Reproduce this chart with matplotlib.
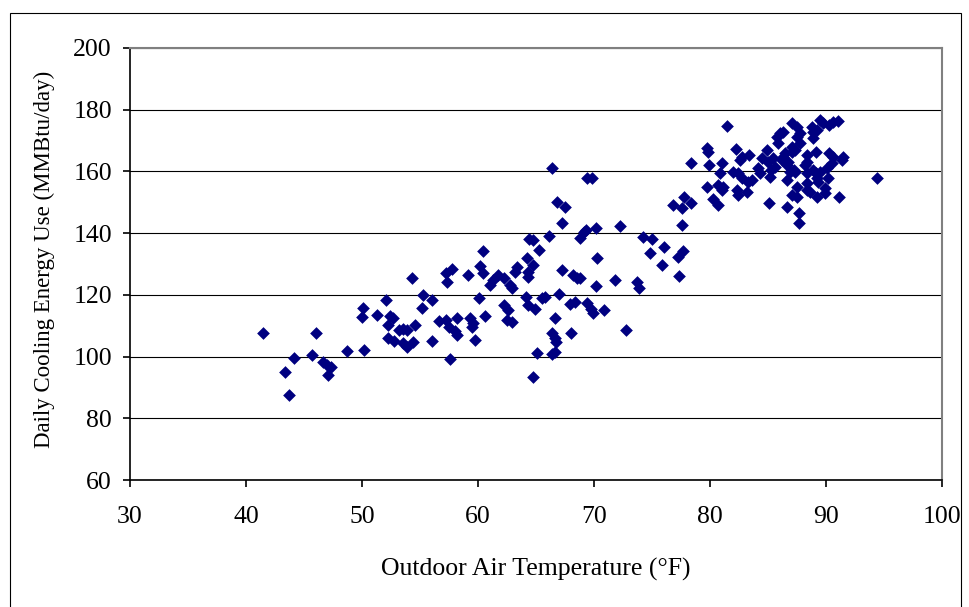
import matplotlib.pyplot as plt
from matplotlib.patches import Rectangle

# outdoor air temperature (F) and daily cooling energy use (MMBtu/day)
temp = [41.5, 46.0, 44.1, 43.4, 43.7, 45.7, 46.6, 47.0, 47.3, 47.1,
        48.7, 50.2, 50.1, 50.0, 51.3, 52.1, 52.4, 52.7, 52.2, 53.2,
        53.5, 53.9, 54.6, 52.2, 52.8, 53.5, 53.9, 54.4, 54.3, 55.3,
        56.0, 55.2, 56.0, 57.6, 56.6, 57.2, 57.5, 58.2, 58.0, 58.2,
        57.2, 57.8, 57.3, 59.1, 59.3, 59.6, 59.5, 60.6, 59.7, 60.1,
        60.4, 60.2, 60.4, 63.4, 63.2, 64.7, 64.3, 64.3, 61.7, 61.3,
        61.0, 62.2, 62.8, 62.9, 64.1, 64.3, 64.9, 65.5, 65.8, 62.2,
        62.6, 62.5, 62.9, 66.4, 69.4, 69.8, 66.8, 67.5, 67.2, 66.1,
        64.4, 64.7, 68.8, 69.1, 69.3, 70.2, 72.2, 74.2, 75.0, 74.8,
        76.0, 75.9, 65.3, 64.2, 70.3, 67.2, 68.2, 68.5, 68.8, 70.2,
        71.8, 73.7, 73.9, 67.0, 67.9, 68.4, 69.4, 69.7, 69.9, 70.9,
        66.6, 66.4, 66.6, 66.7, 68.0, 72.8, 65.1, 66.4, 66.6, 64.7,
        77.2, 77.7, 77.3, 81.5, 79.7, 79.8, 78.4, 79.9, 81.0, 80.9,
        82.2, 79.7, 80.7, 81.0, 81.1, 80.3, 80.7, 76.8, 77.6, 77.8,
        78.4, 77.6, 82.3, 82.4, 83.2, 82.0, 82.4, 82.8, 83.3, 83.6,
        82.6, 82.8, 83.4, 84.1, 84.3, 84.5, 84.9, 85.0, 85.2, 85.3,
        85.4, 85.6, 85.1, 85.8, 86.0, 86.3, 85.9, 86.6, 86.7, 86.2,
        86.3, 86.5, 86.6, 86.9, 87.2, 87.3, 87.1, 87.5, 87.8, 87.5,
        87.8, 87.1, 87.1, 87.3, 86.6, 87.1, 87.5, 87.5, 87.7, 87.7,
        88.4, 88.4, 88.2, 88.4, 88.4, 88.4, 88.6, 89.2, 88.8, 88.9,
        88.9, 89.2, 89.1, 88.9, 89.1, 89.2, 89.3, 89.5, 89.5, 89.7,
        90.3, 90.6, 91.0, 90.1, 90.2, 89.9, 89.9, 90.3, 90.6, 90.5,
        91.4, 91.5, 91.1, 94.4]

energy = [107.6, 107.6, 99.5, 95.0, 87.6, 100.5, 98.3, 97.3, 96.6, 94.0,
          101.8, 102.1, 115.7, 112.8, 113.5, 118.3, 113.2, 112.5, 110.2, 108.6,
          108.9, 108.6, 110.2, 106.0, 105.1, 104.4, 103.1, 104.7, 125.5, 120.0,
          118.3, 115.7, 105.1, 99.2, 111.5, 111.9, 109.6, 112.5, 108.3, 107.0,
          127.1, 128.4, 124.2, 126.4, 112.5, 110.9, 109.6, 113.2, 105.4, 119.0,
          134.2, 129.4, 127.1, 129.0, 127.4, 129.7, 127.4, 125.8, 126.4, 124.8,
          123.2, 125.5, 123.2, 122.2, 119.3, 116.7, 115.4, 119.0, 119.3, 116.7,
          115.1, 111.9, 111.2, 161.1, 157.9, 157.9, 150.1, 148.5, 143.3, 139.1,
          138.1, 137.8, 138.4, 140.4, 141.0, 141.7, 142.3, 138.8, 138.1, 133.6,
          135.5, 129.7, 134.5, 132.0, 132.0, 128.1, 126.4, 125.5, 125.5, 122.9,
          124.8, 124.2, 122.2, 120.3, 117.0, 117.7, 117.4, 115.4, 114.1, 115.1,
          112.5, 107.6, 106.0, 104.7, 107.6, 108.6, 101.2, 100.8, 101.5, 93.4,
          132.3, 134.2, 126.1, 174.7, 167.6, 166.3, 162.7, 162.1, 162.7, 159.5,
          167.3, 155.0, 155.6, 154.0, 155.0, 151.1, 149.1, 149.1, 148.2, 151.7,
          149.8, 142.6, 154.0, 152.4, 153.3, 159.8, 159.5, 157.9, 156.6, 157.2,
          163.7, 164.7, 165.3, 161.1, 159.5, 164.4, 166.9, 163.1, 158.2, 160.5,
          164.4, 161.4, 149.8, 171.2, 172.5, 172.8, 169.2, 162.1, 163.1, 163.7,
          164.7, 166.0, 157.2, 159.8, 160.5, 159.8, 175.7, 174.4, 172.5, 171.2,
          169.2, 167.9, 166.3, 166.9, 148.5, 152.4, 151.7, 155.0, 146.5, 143.3,
          165.3, 163.1, 162.1, 159.5, 156.3, 154.0, 153.3, 151.7, 174.4, 172.8,
          170.8, 173.4, 166.3, 160.5, 159.5, 157.9, 156.6, 159.8, 176.7, 175.7,
          175.0, 176.0, 176.3, 161.1, 157.9, 154.6, 153.0, 166.0, 164.7, 162.7,
          163.7, 164.7, 151.7, 157.9]

x_ticks = [30, 40, 50, 60, 70, 80, 90, 100]
y_ticks = [60, 80, 100, 120, 140, 160, 180, 200]

plt.rcParams['font.family'] = ['Liberation Serif', 'DejaVu Serif']

fig = plt.figure(figsize=(9.69, 6.07), dpi=100)
ax = fig.add_axes([130 / 969, 1 - 480 / 607, 812 / 969, 432 / 607])

# outer chart border
fig.patches.append(Rectangle((10 / 969, -0.01), 951 / 969, 1 - 13 / 607 + 0.01,
                             transform=fig.transFigure, fill=False,
                             edgecolor='black', linewidth=0.8))

ax.scatter(temp, energy, marker='D', s=42, color='#000080', zorder=3, linewidths=0)

ax.set_xlim(30, 100)
ax.set_ylim(60, 200)
ax.set_xticks(x_ticks)
ax.set_yticks(y_ticks)
ax.grid(axis='y', color='black', linewidth=0.8)
ax.set_axisbelow(True)

for side in ['top', 'right']:
    ax.spines[side].set_color('#808080')
    ax.spines[side].set_linewidth(1.5)
for side in ['left', 'bottom']:
    ax.spines[side].set_color('black')
    ax.spines[side].set_linewidth(1.2)

ax.tick_params(axis='x', direction='out', length=5, width=1.2, pad=14, labelsize=18.5)
ax.tick_params(axis='y', direction='out', length=5, width=1.2, pad=8, labelsize=18.5)

ax.set_xlabel('Outdoor Air Temperature (°F)', fontsize=18.5)
ax.set_ylabel('Daily Cooling Energy Use (MMBtu/day)', fontsize=16.5)
ax.xaxis.label.set_va('center')
ax.yaxis.label.set_va('center')
ax.xaxis.set_label_coords(0.5, -0.208)
ax.yaxis.set_label_coords(-0.105, 0.51)

fig.savefig('out.png', dpi=100)
